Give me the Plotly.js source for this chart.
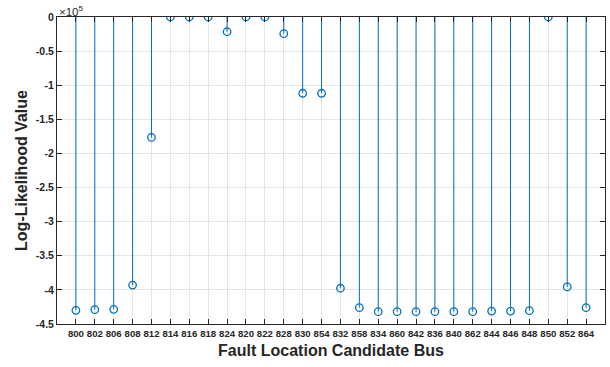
<!DOCTYPE html>
<html><head><meta charset="utf-8">
<script src="https://cdn.plot.ly/plotly-3.0.1.min.js"></script>
<style>html,body{margin:0;padding:0;background:#fff}#chart{width:610px;height:367px}</style>
</head><body><div id="chart"></div>
<script>
const buses = ['800','802','806','808','812','814','816','818','824','820','822','828','830','854','832','858','834','860','842','836','840','862','844','846','848','850','852','864'];
const logLik = [-430000,-429000,-428500,-393000,-176500,0,0,0,-21600,0,0,-24500,-111800,-111800,-397600,-426000,-432000,-432000,-432000,-432000,-432000,-432000,-431000,-431000,-430500,0,-395600,-426000];
const yTickVals = [0,-50000,-100000,-150000,-200000,-250000,-300000,-350000,-400000,-450000];
const yTickText = ['0','-0.5','-1','-1.5','-2','-2.5','-3','-3.5','-4','-4.5'];

const idx = buses.map((b,i)=>i+1);
const sx = [], sy = [];
idx.forEach((x,i)=>{ sx.push(x,x,null); sy.push(0,logLik[i],null); });

const blue = '#0072BD';
const fam = 'Liberation Sans, Arial, sans-serif';
const traces = [
  {x:sx, y:sy, mode:'lines', line:{color:blue,width:1}, hoverinfo:'skip', showlegend:false},
  {x:idx, y:logLik, mode:'markers', marker:{symbol:'circle-open', size:7.5, color:blue, line:{width:1.3,color:blue}}, showlegend:false}
];
const layout = {
  width:610, height:367,
  margin:{l:56.5, r:4.5, t:17.3, b:43},
  paper_bgcolor:'#fff', plot_bgcolor:'#fff',
  xaxis:{
    range:[0,29], tickvals:idx, ticktext:buses, tickangle:0,
    showgrid:true, gridcolor:'#e5e5e5', gridwidth:1, zeroline:false,
    showline:true, linecolor:'#262626', linewidth:1, mirror:'ticks',
    ticks:'inside', ticklen:5, tickcolor:'#262626',
    tickfont:{family:fam, size:9.6, color:'#262626', weight:'bold'},
    title:{text:'Fault Location Candidate Bus', font:{family:fam, size:16, color:'#262626', weight:'bold'}, standoff:7}
  },
  yaxis:{
    range:[-450000,0], tickvals:yTickVals, ticktext:yTickText,
    showgrid:true, gridcolor:'#e5e5e5', gridwidth:1, zeroline:false,
    showline:true, linecolor:'#262626', linewidth:1, mirror:'ticks',
    ticks:'inside', ticklen:5, tickcolor:'#262626',
    tickfont:{family:fam, size:10.5, color:'#262626', weight:'bold'},
    title:{text:'Log-Likelihood Value', font:{family:fam, size:16, color:'#262626', weight:'bold'}, standoff:4}
  },
  annotations:[{xref:'paper', yref:'paper', x:0, y:1, xanchor:'left', yanchor:'bottom', showarrow:false, yshift:-3,
    text:'×10<sup>5</sup>', font:{family:fam, size:11.5, color:'#262626'}}]
};
Plotly.newPlot('chart', traces, layout, {displayModeBar:false, staticPlot:true});
</script></body></html>
